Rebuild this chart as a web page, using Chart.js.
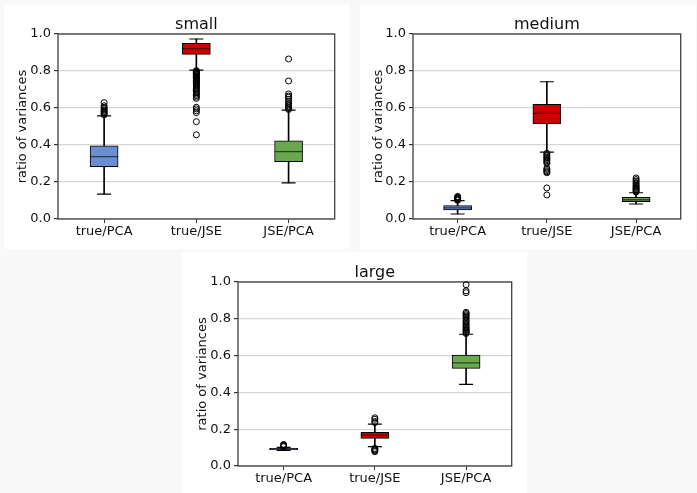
<!DOCTYPE html>
<html>
<head>
<meta charset="utf-8">
<script src="https://cdn.jsdelivr.net/npm/chart.js@4.4.1/dist/chart.umd.min.js"></script>
<style>
  body { margin: 0; background: #f9f9f9; width: 697px; height: 493px; position: relative; overflow: hidden; }
  .panel { position: absolute; background: #ffffff; }
  canvas { display: block; }
</style>
</head>
<body>
<div class="panel" style="left:4px;top:5px;"><canvas id="small" width="346" height="244"></canvas></div>
<div class="panel" style="left:360px;top:5px;"><canvas id="medium" width="336" height="244"></canvas></div>
<div class="panel" style="left:182px;top:252px;"><canvas id="large" width="345" height="241"></canvas></div>
<script>
// categories and tick labels
const categories = ['true/PCA', 'true/JSE', 'JSE/PCA'];
const yTickLabels = ['0.0', '0.2', '0.4', '0.6', '0.8', '1.0'];
const boxColors = ['#6a8ecf', '#cc0000', '#6aa84f'];

// small
const smallQ1 = [0.283, 0.890, 0.310];
const smallMed = [0.337, 0.921, 0.364];
const smallQ3 = [0.395, 0.950, 0.422];
const smallLo = [0.135, 0.805, 0.195];
const smallHi = [0.557, 0.973, 0.589];
const smallOut = [
    [0.563, 0.569, 0.574, 0.578, 0.583, 0.589, 0.596, 0.604, 0.612, 0.629],
    [0.802, 0.799, 0.796, 0.793, 0.790, 0.787, 0.783, 0.780, 0.776, 0.772, 0.769, 0.765, 0.761, 0.757,
     0.752, 0.748, 0.743, 0.739, 0.734, 0.729, 0.724, 0.719, 0.713, 0.707, 0.701, 0.695, 0.688, 0.681,
     0.674, 0.667, 0.659, 0.652, 0.604, 0.595, 0.585, 0.575, 0.526, 0.455],
    [0.592, 0.598, 0.604, 0.611, 0.618, 0.625, 0.636, 0.647, 0.658, 0.665, 0.676, 0.746, 0.865]
];

// medium
const mediumQ1 = [0.049, 0.514, 0.094];
const mediumMed = [0.060, 0.571, 0.104];
const mediumQ3 = [0.072, 0.620, 0.117];
const mediumLo = [0.027, 0.362, 0.081];
const mediumHi = [0.099, 0.742, 0.142];
const mediumOut = [
    [0.101, 0.104, 0.107, 0.110, 0.113, 0.116, 0.119, 0.122],
    [0.355, 0.348, 0.341, 0.334, 0.328, 0.321, 0.315, 0.308, 0.301, 0.274, 0.268, 0.261, 0.255, 0.250, 0.168, 0.130],
    [0.146, 0.151, 0.156, 0.161, 0.166, 0.171, 0.177, 0.183, 0.190, 0.197, 0.205, 0.213, 0.222]
];

// large
const largeQ1 = [0.089, 0.150, 0.531];
const largeMed = [0.093, 0.168, 0.561];
const largeQ3 = [0.096, 0.183, 0.603];
const largeLo = [0.085, 0.105, 0.444];
const largeHi = [0.101, 0.228, 0.716];
const largeOut = [
    [0.105, 0.108, 0.111, 0.114, 0.117],
    [0.236, 0.242, 0.254, 0.262, 0.096, 0.091, 0.087, 0.082, 0.078],
    [0.720, 0.725, 0.730, 0.736, 0.741, 0.747, 0.753, 0.760, 0.767, 0.775, 0.783, 0.791, 0.800, 0.808,
     0.815, 0.822, 0.829, 0.835, 0.942, 0.952, 0.985]
];

const FONT = 'DejaVu Sans';

// axes frame like matplotlib spines
const framePlugin = {
    id: 'frame',
    beforeDatasetsDraw(chart) {
        const { ctx, chartArea: a } = chart;
        ctx.save();
        ctx.strokeStyle = '#404040';
        ctx.lineWidth = 1.3;
        ctx.strokeRect(a.left, a.top, a.right - a.left, a.bottom - a.top);
        ctx.restore();
    }
};

function makeBoxChart(id, title, q1, med, q3, lo, hi, out, lay) {
    const capPts = [];
    categories.forEach((c, i) => { capPts.push({ x: c, y: lo[i] }, { x: c, y: hi[i] }); });
    const outPts = [];
    categories.forEach((c, i) => { out[i].forEach(v => outPts.push({ x: c, y: v })); });

    new Chart(document.getElementById(id), {
        type: 'bar',
        data: {
            labels: categories,
            datasets: [
                {   // whiskers
                    data: categories.map((c, i) => [lo[i], hi[i]]),
                    backgroundColor: '#000', barThickness: 1, grouped: false, order: 4
                },
                {   // boxes
                    data: categories.map((c, i) => [q1[i], q3[i]]),
                    backgroundColor: boxColors, borderColor: '#000', borderWidth: 1,
                    borderSkipped: false, barThickness: 28, grouped: false, order: 3
                },
                {   // caps
                    type: 'line', data: capPts, showLine: false, pointStyle: 'line',
                    pointRadius: 7, pointBorderWidth: 1.2, pointBorderColor: '#000', order: 2
                },
                {   // medians
                    type: 'line', data: categories.map((c, i) => ({ x: c, y: med[i] })), showLine: false,
                    pointStyle: 'line', pointRadius: 14, pointBorderWidth: 1.3,
                    pointBorderColor: 'rgba(0,0,0,0.6)', order: 1
                },
                {   // outliers
                    type: 'line', data: outPts, showLine: false, pointStyle: 'circle', pointRadius: 3,
                    pointBorderWidth: 1, pointBorderColor: '#000', pointBackgroundColor: 'rgba(0,0,0,0)',
                    clip: false, order: 0
                }
            ]
        },
        options: {
            responsive: false,
            animation: false,
            devicePixelRatio: 1,
            layout: { padding: { left: 0, right: lay.right, top: 0, bottom: 0 } },
            plugins: {
                legend: { display: false },
                tooltip: { enabled: false },
                title: {
                    display: true, text: title, fullSize: false, color: '#111',
                    font: { family: FONT, size: 16, weight: 'normal', lineHeight: 1.2 },
                    padding: { top: lay.top - 19.2, bottom: 0 }
                }
            },
            scales: {
                x: {
                    offset: true,
                    grid: { offset: false, drawOnChartArea: false, drawTicks: true, tickLength: 4, tickColor: '#333' },
                    border: { display: false },
                    ticks: { color: '#111', padding: 1, font: { family: FONT, size: 13 } },
                    afterFit(s) { s.height = lay.bottom; }
                },
                y: {
                    min: 0, max: 1,
                    grid: { color: '#d6d6d6', lineWidth: 1.2, tickLength: 4, tickColor: '#333' },
                    border: { display: false },
                    ticks: {
                        stepSize: 0.2, color: '#111', padding: 3, font: { family: FONT, size: 13 },
                        callback: (v, i) => yTickLabels[i]
                    },
                    title: {
                        display: true, text: 'ratio of variances', color: '#111',
                        font: { family: FONT, size: 13, lineHeight: 1.2 },
                        padding: { top: lay.ylab - 7.8, bottom: 0 }
                    },
                    afterFit(s) { s.width = lay.left; }
                }
            }
        },
        plugins: [framePlugin]
    });
}

makeBoxChart('small', 'small', smallQ1, smallMed, smallQ3, smallLo, smallHi, smallOut,
    { left: 54, right: 12, top: 29, bottom: 30, ylab: 19 });
makeBoxChart('medium', 'medium', mediumQ1, mediumMed, mediumQ3, mediumLo, mediumHi, mediumOut,
    { left: 53, right: 3, top: 29, bottom: 30, ylab: 19 });
makeBoxChart('large', 'large', largeQ1, largeMed, largeQ3, largeLo, largeHi, largeOut,
    { left: 56, right: 12, top: 30, bottom: 27, ylab: 21 });
</script>
</body>
</html>
